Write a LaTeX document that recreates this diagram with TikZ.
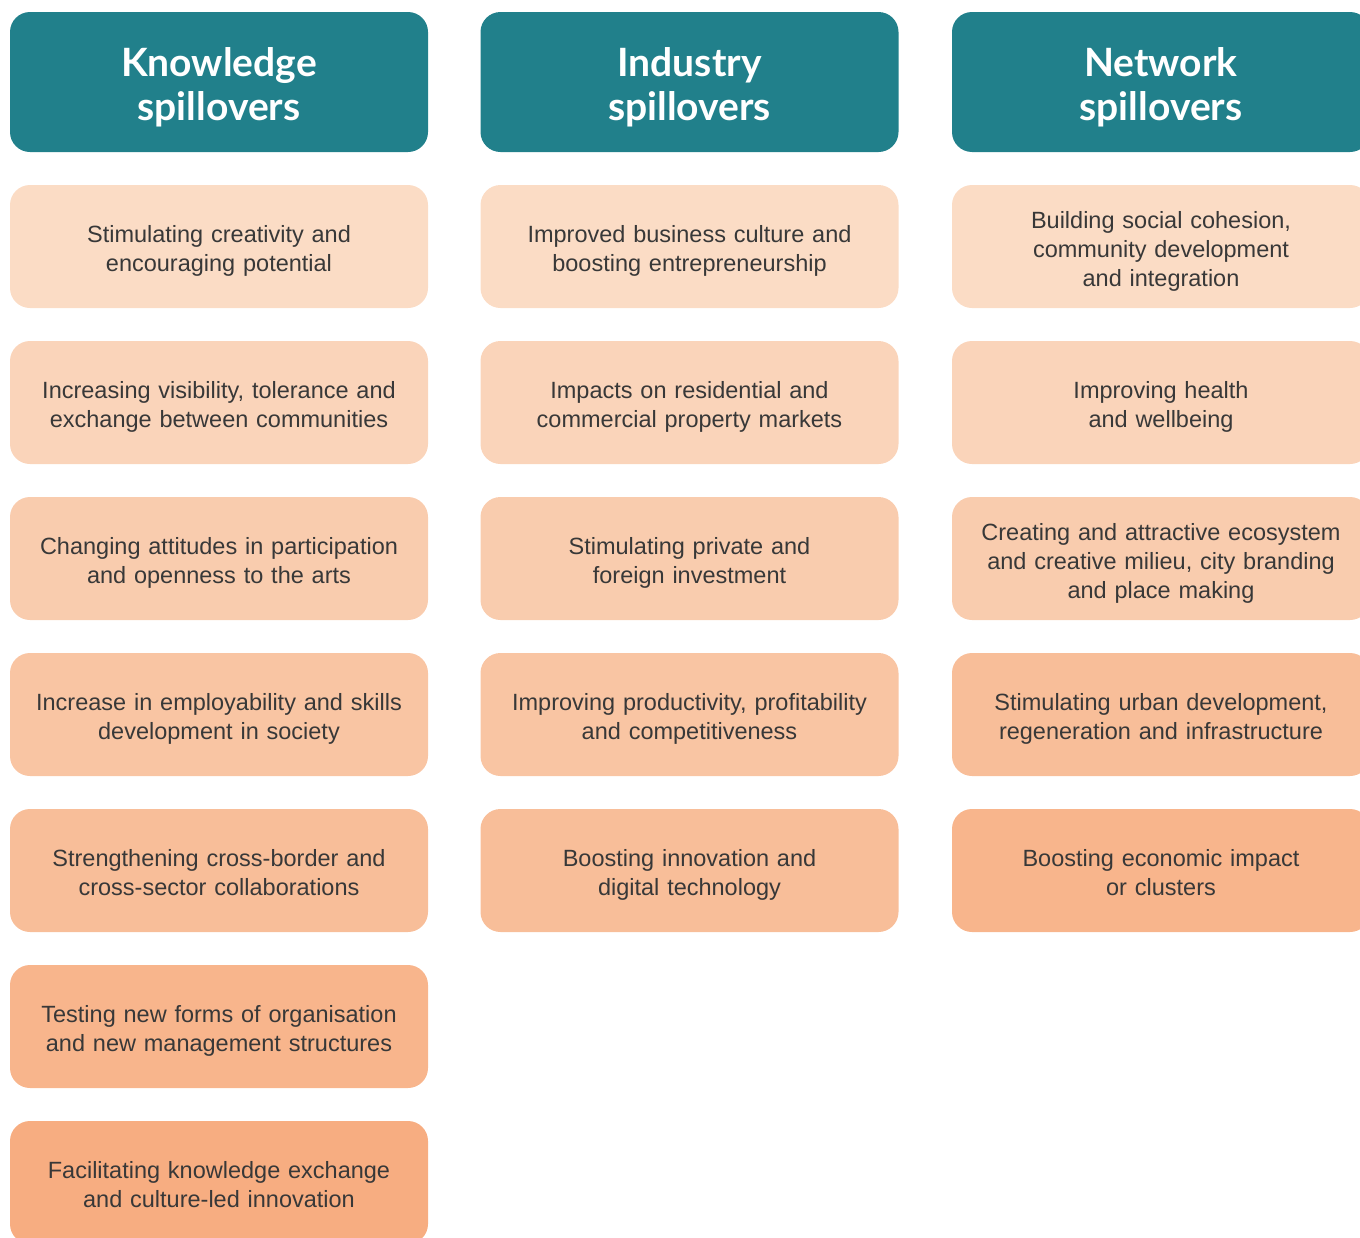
\documentclass[tikz,border=0pt]{standalone}
\usepackage{fontspec}
\setmainfont{Liberation Sans}
\newfontfamily\headfont{Lato}
\usetikzlibrary{positioning}

\definecolor{teal}{HTML}{21808B}
\definecolor{peachA}{HTML}{FBDCC5}
\definecolor{peachB}{HTML}{FAD4BA}
\definecolor{peachC}{HTML}{F9CCAE}
\definecolor{peachD}{HTML}{F9C5A3}
\definecolor{peachE}{HTML}{F8BE99}
\definecolor{peachF}{HTML}{F8B58C}
\definecolor{peachG}{HTML}{F7AD81}
\definecolor{bodytext}{HTML}{383838}

\tikzset{
  head/.style={rectangle, rounded corners=20pt, fill=teal, text=white,
    minimum width=418pt, minimum height=140pt, text width=400pt, align=center,
    font=\headfont\bfseries\fontsize{39}{44}\selectfont,
    execute at begin node={\rule{0pt}{44pt}}, execute at end node={\rule[-12pt]{0pt}{0pt}}},
  item/.style={rectangle, rounded corners=20pt, fill=#1, text=bodytext,
    minimum width=418pt, minimum height=123pt, text width=410pt, align=center,
    font=\fontsize{23.5}{29}\selectfont,
    execute at begin node={\rule{0pt}{30pt}}, execute at end node={\strut}},
}

\begin{document}
\begin{tikzpicture}[x=1pt, y=-1pt]

    \useasboundingbox (0,0) rectangle (1360,1237);
    \clip (0,0) rectangle (1360,1237);

    % Headers
    \node[head] (know) at (219,82) {Knowledge\\spillovers};
    \node[head] (indu) at (689.5,82) {Industry\\spillovers};
    \node[head] (netw) at (1161,82) {Network\\spillovers};

    % Knowledge column
    \node[item=peachA] (k1) at (219,246.5) {Stimulating creativity and\\encouraging potential};
    \node[item=peachB] (k2) at (219,402.5) {Increasing visibility, tolerance and\\exchange between communities};
    \node[item=peachC] (k3) at (219,558.5) {Changing attitudes in participation\\and openness to the arts};
    \node[item=peachD] (k4) at (219,714.5) {Increase in employability and skills\\development in society};
    \node[item=peachE] (k5) at (219,870.5) {Strengthening cross-border and\\cross-sector collaborations};
    \node[item=peachF] (k6) at (219,1026.5) {Testing new forms of organisation\\and new management structures};
    \node[item=peachG] (k7) at (219,1182.5) {Facilitating knowledge exchange\\and culture-led innovation};

    % Industry column
    \node[item=peachA] (i1) at (689.5,246.5) {Improved business culture and\\boosting entrepreneurship};
    \node[item=peachB] (i2) at (689.5,402.5) {Impacts on residential and\\commercial property markets};
    \node[item=peachC] (i3) at (689.5,558.5) {Stimulating private and\\foreign investment};
    \node[item=peachD] (i4) at (689.5,714.5) {Improving productivity, profitability\\and competitiveness};
    \node[item=peachE] (i5) at (689.5,870.5) {Boosting innovation and\\digital technology};

    % Network column
    \node[item=peachA] (n1) at (1161,246.5) {Building social cohesion,\\community development\\and integration};
    \node[item=peachB] (n2) at (1161,402.5) {Improving health\\and wellbeing};
    \node[item=peachC] (n3) at (1161,558.5) {Creating and attractive ecosystem\\and creative milieu, city branding\\and place making};
    \node[item=peachE] (n4) at (1161,714.5) {Stimulating urban development,\\regeneration and infrastructure};
    \node[item=peachF] (n5) at (1161,870.5) {Boosting economic impact\\or clusters};

\end{tikzpicture}
\end{document}
